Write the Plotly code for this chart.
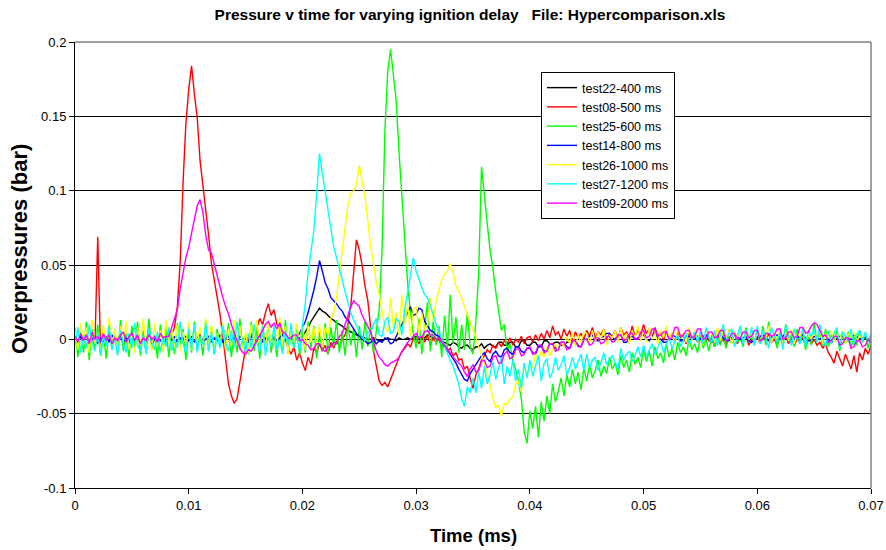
import numpy as np
import plotly.graph_objects as go

# sample times, 0.00025 step, 0 .. 0.07 (axis labelled "Time (ms)")
time_s = np.round(np.arange(281) * 0.00025, 5)

# overpressure readings in units of 0.001 bar; each row of 20 covers 0.005 of time
test08_500 = [
    2, -3, 3, -1, 4, -2, 1, -4, 69, -9, 3, -2, 4, -3, 2, -1, 3, -4, 1, -2,
    4, -2, 3, -4, 2, -1, 5, -3, 1, -2, 4, -3, 2, 0, 3, 8, 22, 52, 105, 145,
    168, 184, 165, 149, 120, 104, 85, 70, 51, 40, 28, 17, 2, -14, -30, -38, -43, -40, -29, -18,
    -6, 0, 4, -1, 8, 14, 10, 18, 24, 16, 20, 10, 8, 3, 0, -6, -10, -5, -14, -9,
    -16, -21, -12, -17, -6, -9, -3, -8, -4, -10, -2, -6, -1, -5, 0, 3, 10, 22, 45, 67,
    60, 50, 36, 26, 8, -8, -18, -28, -31, -29, -32, -27, -22, -16, -12, -8, -6, -3, -5, 0,
    1, -3, 2, -2, 3, -4, 1, -2, 0, -5, -4, -8, -6, -11, -9, -14, -13, -20, -18, -26,
    -33, -24, -20, -14, -11, -7, -9, -4, -6, -2, -5, -1, -3, 1, -4, 0, -2, 2, -3, 1,
    2, -2, 3, -1, 4, 0, 6, 1, 9, 3, 5, 0, 7, 2, 6, -1, 5, 1, 4, 0,
    6, 2, 8, 1, 5, 3, 7, -1, 4, 2, 6, 0, 8, 3, 5, 1, 9, 2, 6, 3,
    10, 4, 7, 1, 8, 2, 5, -1, 6, 0, 4, -2, 5, 1, 3, -3, 4, 0, 2, -2,
    3, -3, 2, -1, 1, -5, 3, -2, 0, -4, 2, -1, 4, -3, 1, -2, 3, -4, 0, -2,
    2, -3, 1, -1, 4, -2, 0, -4, 3, -1, 2, -3, 1, -4, 0, -2, 2, -5, 1, -3,
    0, -4, -2, -6, -3, -9, -12, -16, -8, -13, -18, -10, -15, -20, -11, -22, -9, -14, -6, -10,
    -4]

test25_600 = [
    8, -12, 5, -9, 12, -14, 7, -6, 10, -11, 3, -13, 11, -7, 6, -10, 13, -8, 4, -12,
    9, -5, 12, -11, 6, -9, 14, -7, 3, -13, 10, -6, 8, -12, 5, -10, 11, -4, 7, -14,
    6, -9, 12, -7, 4, -11, 13, -8, 9, -10, 7, -5, 10, -4, 11, -12, 6, -9, 14, -6,
    3, -10, 12, -8, 7, -13, 9, -5, 11, -9, 5, -12, 8, -7, 13, -10, 4, -6, 10, -11,
    7, -9, 12, -6, 9, -13, 5, -8, 11, -10, 8, -5, 13, -9, 6, -11, 10, -4, 7, -12,
    9, -7, 12, -5, 8, -9, 6, 20, 60, 140, 180, 195, 178, 160, 125, 95, 62, 38, 18, 4,
    -6, 14, -10, 8, 25, -8, 12, -4, 9, -12, 16, -6, 30, -3, 15, -9, 10, -7, 18, -5,
    -10, 12, 45, 116, 95, 78, 60, 48, 32, 20, 6, 10, -8, -3, -14, -20, -28, -40, -62, -70,
    -48, -60, -45, -66, -42, -55, -38, -50, -30, -42, -35, -26, -38, -24, -32, -20, -30, -22, -34, -19,
    -28, -17, -26, -21, -14, -25, -18, -23, -12, -20, -16, -24, -11, -19, -14, -22, -9, -17, -12, -19,
    -6, -15, -8, -18, -5, -13, -9, -16, -3, -12, -6, -14, -2, -9, -5, -11, 0, -7, -3, -9,
    2, -6, 0, -8, 3, -5, 1, -4, 4, -6, 2, -3, 5, -2, 1, -5, 8, -1, 3, -4,
    6, -3, 9, -4, 12, -2, 4, -6, 5, -3, 10, -1, 3, -5, 7, -2, 4, -7, 2, -4,
    11, -2, 5, -4, 7, -5, 3, -1, 6, -8, 4, -3, 5, -6, 2, -4, 6, -2, 3, -6,
    3]

test14_800 = [
    1, -2, 2, -1, 3, -2, 0, 2, -3, 1, -1, 2, -2, 3, -1, 0, 2, -2, 1, -3,
    2, -1, 3, -2, 1, -1, 2, -3, 0, 2, -1, 1, -2, 3, -1, 2, -2, 1, 0, 2,
    -1, 2, -2, 1, 3, -1, 0, 2, -2, 1, -1, 3, -2, 0, 2, -1, 1, -3, 2, 0,
    1, -2, 2, 0, -1, 3, -2, 1, 0, -1, 2, -2, 1, 3, -1, 0, 2, -1, 1, 4,
    8, 12, 18, 25, 33, 42, 53, 46, 38, 34, 28, 26, 24, 21, 19, 15, 13, 10, 7, 4,
    2, 0, -1, -3, -2, 0, -3, -1, -2, 1, 0, -3, -2, 2, 5, 9, 14, 18, 22, 16,
    17, 21, 20, 12, 9, 6, 5, 3, 2, -1, -4, -7, -10, -13, -16, -20, -24, -27, -28, -23,
    -20, -17, -14, -11, -9, -13, -15, -10, -8, -11, -12, -7, -6, -9, -10, -5, -5, -8, -9, -6,
    -6, -9, -10, -5, -4, -8, -7, -3, -3, -6, -7, -2, -2, -5, -6, -1, -1, -4, -5, 0,
    0, 2, 3, -1, -1, 1, 2, 4, 4, 1, 0, 3, 3, -2, -2, 1, 2, 0, 1, 2,
    3, 0, -1, 2, 4, 1, 0, -2, -2, 1, 3, 2, 1, -1, -1, 2, 2, 0, 0, 2,
    0, 2, 3, 1, -2, 0, 2, 3, 1, -1, -1, 1, 3, 2, 0, 1, 2, -1, -2, 0,
    1, 2, 3, 0, -1, 1, 2, 3, 0, 2, 4, 1, -2, 0, 1, 2, 3, 1, -1, 0,
    2, 1, 0, 2, 3, 0, -2, -1, 1, 2, 2, 0, -1, 1, 3, 2, 0, 1, 1, 0,
    2]

# test22 was only recorded from sample 78 (0.0195) to sample 176 (0.044)
test22_400 = [
    0, 1,
    2, 5, 8, 12, 15, 18, 21, 19, 18, 16, 14, 13, 11, 10, 9, 7, 6, 5, 4, 3,
    2, 2, 1, 0, 0, 1, 0, -1, -1, 0, 1, 0, 0, -1, 1, 0, 0, 1, 0, 1,
    2, 1, 0, 1, 3, 2, 1, 0, 0, -1, -2, -3, -4, -2, -3, -5, -6, -4, -4, -6,
    -7, -5, -5, -3, -6, -4, -3, -5, -5, -2, -2, -4, -4, -2, -2, -5, -5, -1, -1, -4,
    -4, -2, -2, -5, -5, -1, -1, -3, -3, -2, -2, -4, -4, -2, -2, 0, 0]
test22_first, test22_last = 78, 176

test26_1000 = [
    6, -7, 11, -4, 8, -9, 13, -3, 5, -8, 10, -6, 15, -5, 7, -10, 9, -2, 12, -7,
    4, -9, 8, -4, 14, -6, 3, -8, 11, -5, 6, -9, 13, -3, 7, -6, 10, -8, 5, -4,
    12, -7, 9, -2, 8, -5, 14, -6, 10, -9, 4, -3, 11, -8, 7, -5, 13, -4, 9, -7,
    5, -9, 10, -3, 13, -6, 8, -8, 12, -4, 6, -7, 15, -5, 9, -10, 7, -3, 11, -6,
    12, -7, 9, -2, 8, -4, 10, -5, 8, 3, 14, 18, 28, 45, 62, 75, 90, 98, 100, 104,
    117, 105, 96, 80, 62, 52, 38, 30, 20, 8, 5, 28, 8, 18, 2, 30, 10, 24, 2, 20,
    22, 4, 18, 6, 10, 28, 12, 26, 33, 40, 44, 46, 51, 45, 36, 32, 28, 22, 17, 12,
    6, 1, -5, -10, -16, -22, -32, -40, -46, -44, -52, -43, -44, -40, -39, -30, -28, -35, -16, -25,
    -16, -19, -10, -14, -8, -12, -5, -11, -7, -3, -8, -2, -5, 2, -3, 4, -5, 3, -2, 5,
    4, -3, 6, -2, 5, 0, 7, -4, 3, 1, 6, -2, 8, 0, 4, -3, 6, 1, 9, -1,
    6, -2, 8, 0, 4, -3, 6, 1, 9, -1, 5, -4, 7, 2, 4, -2, 8, -1, 6, 0,
    5, -4, 7, 2, 4, -2, 8, -1, 6, 0, 7, -3, 5, 1, 9, -2, 4, 0, 6, -4,
    7, -3, 5, 1, 9, -2, 4, 0, 6, -4, 5, -1, 7, -3, 4, 2, 6, -2, 3, 0,
    5, -1, 7, -3, 4, 2, 6, -2, 3, 0, 6, -3, 4, 1, 5, -2, 3, 0, 4, -1,
    4]

test27_1200 = [
    -4, 8, -9, 3, -6, 10, -2, -8, 5, -10, 2, -5, 9, -7, 1, -11, 6, -3, -9, 4,
    -6, 11, -4, -8, 3, -10, 7, -2, -7, 5, -9, 2, -5, 8, -8, 0, -6, 12, -3, -9,
    7, -6, 10, -9, 2, -4, 11, -8, 5, -10, 3, -6, 9, -3, -8, 6, -5, 12, -7, 1,
    -9, 4, -6, 10, -3, -8, 8, -11, 2, -5, 9, -7, 0, -10, 6, -4, 11, -6, 3, -8,
    10, 24, 45, 60, 73, 98, 125, 112, 100, 88, 75, 62, 55, 48, 40, 32, 24, 18, 13, 9,
    6, 2, -1, 5, 4, 10, 14, 3, 2, 12, 15, 4, 5, 14, 12, 3, 20, 32, 45, 55,
    46, 40, 35, 30, 28, 22, 17, 10, 6, 0, -5, -10, -14, -18, -24, -30, -40, -45, -32, -36,
    -26, -36, -22, -33, -18, -30, -24, -15, -27, -20, -12, -30, -18, -25, -14, -28, -20, -33, -16, -26,
    -14, -25, -18, -11, -28, -16, -13, -26, -22, -12, -21, -17, -11, -24, -19, -12, -20, -15, -10, -21,
    -10, -19, -14, -12, -21, -16, -9, -17, -13, -11, -16, -20, -6, -14, -10, -8, -15, -11, -5, -12,
    -4, -12, -7, -3, -10, -6, -1, -9, -4, 2, -6, -2, 3, -5, -1, 4, -3, 0, 5, -2,
    5, -3, 8, 1, -2, 6, -4, 3, 10, -1, 4, 7, -5, 2, 9, -3, 6, 0, 8, -4,
    9, -3, 6, 1, -6, 8, 2, -2, 5, -7, 9, 3, -4, 7, 0, -3, 8, -5, 6, 2,
    7, -2, 10, 1, -5, 6, -3, 4, 8, -6, 5, 2, -2, 7, -4, 3, 6, -1, 5, -2,
    4]

test09_2000 = [
    2, -2, 4, -1, 3, -3, 5, 0, 2, -2, 4, -1, 3, -3, 1, -1, 3, 5, -2, 2,
    4, -1, 3, -3, 1, -1, 3, 0, 2, -2, 4, 1, 2, 2, 8, 14, 20, 34, 46, 55,
    62, 72, 80, 90, 94, 85, 70, 60, 58, 50, 42, 35, 28, 22, 17, 10, 4, -1, -6, -9,
    -10, -7, -8, -4, 0, 3, 6, 10, 12, 8, 11, 7, 11, 5, 4, 1, 1, 3, 3, -1,
    0, -3, -4, -7, -6, -3, -3, -7, -8, -5, -5, -2, -3, 2, 4, 10, 15, 22, 26, 24,
    22, 16, 12, 8, 5, -2, -8, -12, -14, -17, -18, -16, -15, -14, -12, -8, -5, -2, 0, 2,
    4, 1, 2, 5, 6, 3, 3, 0, 1, -2, -4, -7, -9, -12, -14, -16, -18, -22, -25, -20,
    -17, -22, -21, -15, -14, -19, -18, -12, -11, -16, -16, -10, -8, -13, -12, -7, -6, -11, -10, -6,
    -5, -10, -9, -4, -4, -9, -8, -3, -3, -8, -7, -2, -2, -7, -6, -1, -1, -5, -5, 0,
    0, -4, -3, 1, 1, -3, -2, 2, 2, -2, -1, 3, 3, -1, 0, 4, 4, 0, 0, 5,
    6, 1, 2, 7, 7, 2, 3, 5, 5, 0, 1, 8, 8, 2, 3, 6, 6, 1, 2, 7,
    7, 0, 1, 5, 5, 1, 2, 6, 6, -1, 0, 4, 4, 0, 1, 5, 5, 1, 2, 6,
    6, -1, 0, 4, 4, 2, 3, 7, 7, 0, 1, 5, 5, 1, 2, 8, 8, 4, 5, 9,
    11, 10, 6, 2, 3, -2, -1, 2, 2, -4, -3, 1, 1, -6, -5, -1, -1, -5, -4, 0,
    -2]

series_names = ["test22-400 ms", "test08-500 ms", "test25-600 ms", "test14-800 ms",
                "test26-1000 ms", "test27-1200 ms", "test09-2000 ms"]
series_colors = ["#000000", "#FF0000", "#00FF00", "#0000FF", "#FFFF00", "#00FFFF", "#FF00FF"]

y_tick_vals = [-0.1, -0.05, 0, 0.05, 0.1, 0.15, 0.2]
y_tick_text = ["-0.1", "-0.05", "0", "0.05", "0.1", "0.15", "0.2"]
x_tick_vals = [0, 0.01, 0.02, 0.03, 0.04, 0.05, 0.06, 0.07]
x_tick_text = ["0", "0.01", "0.02", "0.03", "0.04", "0.05", "0.06", "0.07"]

for s in (test08_500, test25_600, test14_800, test26_1000, test27_1200, test09_2000):
    assert len(s) == len(time_s), len(s)
assert len(test22_400) == test22_last - test22_first + 1, len(test22_400)

xs = [time_s[test22_first:test22_last + 1], time_s, time_s, time_s, time_s, time_s, time_s]
ys = [test22_400, test08_500, test25_600, test14_800, test26_1000, test27_1200, test09_2000]

W, H = 886, 550
PL, PT, PR, PB = 75, 42, 871, 488          # plot-area edges in page pixels

FONT = "Liberation Sans, Arial, sans-serif"
fig = go.Figure()
for name, color, x, y in zip(series_names, series_colors, xs, ys):
    fig.add_trace(go.Scatter(x=x, y=np.array(y) / 1000.0, mode="lines", name=name,
                             line=dict(color=color, width=1.4)))

fig.update_layout(
    width=W, height=H,
    margin=dict(l=PL, r=W - PR, t=PT, b=H - PB, autoexpand=False),
    paper_bgcolor="white", plot_bgcolor="white",
    font=dict(family=FONT, size=12, color="black"),
    title=dict(text="<b>Pressure v time for varying ignition delay\u00a0\u00a0\u00a0File: Hypercomparison.xls</b>",
               x=470 / W, xanchor="center", y=1 - 15 / H, yanchor="middle",
               font=dict(family=FONT, size=15.5, color="black")),
    showlegend=True,
    legend=dict(x=(541 - PL) / (PR - PL), y=(PB - 72) / (PB - PT), xanchor="left", yanchor="top",
                bgcolor="white", bordercolor="black", borderwidth=1,
                font=dict(family=FONT, size=12.5, color="black"), itemwidth=30,
                tracegroupgap=0),
    xaxis=dict(range=[0, 0.07], tickvals=x_tick_vals, ticktext=x_tick_text,
               showgrid=False, zeroline=False, showline=True, linecolor="black", linewidth=1,
               ticks="outside", ticklen=5, tickcolor="black", automargin=False,
               tickfont=dict(family=FONT, size=13, color="black")),
    yaxis=dict(range=[-0.1, 0.2], tickvals=y_tick_vals, ticktext=y_tick_text,
               showgrid=True, gridcolor="black", gridwidth=1,
               zeroline=True, zerolinecolor="black", zerolinewidth=1,
               showline=True, linecolor="black", linewidth=1,
               ticks="outside", ticklen=5, tickcolor="black", automargin=False,
               tickfont=dict(family=FONT, size=13, color="black")),
    shapes=[
        dict(type="line", xref="paper", yref="paper", x0=0, x1=1, y0=1, y1=1,
             line=dict(color="#808080", width=1.5)),
        dict(type="line", xref="paper", yref="paper", x0=1, x1=1, y0=0, y1=1,
             line=dict(color="#808080", width=1.5)),
    ],
    annotations=[
        dict(text="<b>Overpressures (bar)</b>", xref="paper", yref="paper",
             x=(19 - PL) / (PR - PL), y=(PB - 249) / (PB - PT), xanchor="center", yanchor="middle",
             textangle=-90, showarrow=False, font=dict(family=FONT, size=22, color="black")),
        dict(text="<b>Time (ms)</b>", xref="paper", yref="paper",
             x=(473 - PL) / (PR - PL), y=(PB - 535) / (PB - PT), xanchor="center", yanchor="middle",
             showarrow=False, font=dict(family=FONT, size=18.5, color="black")),
    ],
)

# remove the default 8px page margin so the figure fills the 886x550 window exactly
fig.write_html("out.html",
               config={"displayModeBar": False},
               post_script="document.body.style.margin='0';document.body.style.overflow='hidden';")
